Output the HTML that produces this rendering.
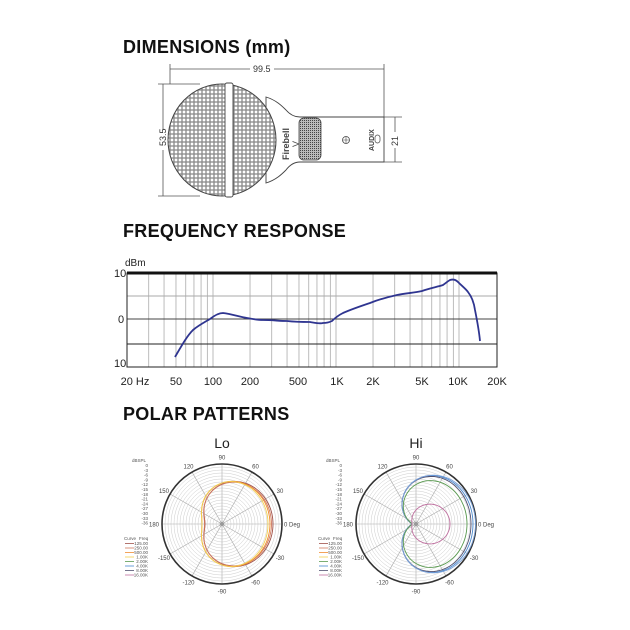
<!DOCTYPE html>
<html><head><meta charset="utf-8"><style>
html,body{margin:0;padding:0;background:#fff;}
svg{display:block;font-family:"Liberation Sans",sans-serif;}
</style></head><body>
<svg id="s" width="630" height="630" viewBox="0 0 630 630" xmlns="http://www.w3.org/2000/svg">
<defs>
<pattern id="mesh" width="8" height="8" patternUnits="userSpaceOnUse">
<rect width="8" height="8" fill="#fff"/>
<path d="M0 2H8M0 6H8M2 0V8M6 0V8" stroke="#888" stroke-width="1.3"/>
</pattern>
<pattern id="grill" width="2" height="2" patternUnits="userSpaceOnUse">
<rect width="2" height="2" fill="#bbb"/><rect width="1" height="1" fill="#444"/>
</pattern>
</defs>
<g font-weight="bold" font-size="18" fill="#111" letter-spacing="0.3">
<text x="123" y="53">DIMENSIONS (mm)</text>
<text x="123" y="237">FREQUENCY RESPONSE</text>
<text x="123" y="420">POLAR PATTERNS</text>
</g>
<!-- mic -->
<g stroke="#555" stroke-width="0.8" fill="none">
<line x1="170" y1="64" x2="170" y2="84"/><line x1="384" y1="64" x2="384" y2="117"/>
<line x1="170" y1="69" x2="250" y2="69"/><line x1="274" y1="69" x2="384" y2="69"/>
<line x1="158" y1="84" x2="200" y2="84"/><line x1="158" y1="196" x2="200" y2="196"/>
<line x1="163" y1="84" x2="163" y2="130"/><line x1="163" y1="150" x2="163" y2="196"/>
<line x1="384" y1="117" x2="402" y2="117"/><line x1="384" y1="162" x2="402" y2="162"/>
<line x1="395" y1="117" x2="395" y2="132"/><line x1="395" y1="148" x2="395" y2="162"/>
</g>
<g font-size="9" fill="#333">
<text x="253" y="72">99.5</text>
<text transform="translate(166,146) rotate(-90)">53.5</text>
<text transform="translate(398,146) rotate(-90)">21</text>
</g>
<path d="M266,97 C276,100 282,106 286,110 Q292,117 300,117 L384,117 L384,162 L300,162 Q292,162 286,170 C282,174 276,180 266,183 Z" fill="#fff" stroke="#444" stroke-width="0.9"/>
<ellipse cx="222" cy="140" rx="54" ry="56" fill="url(#mesh)" stroke="#444" stroke-width="1"/>
<rect x="225" y="83" width="8" height="114" rx="2" fill="#fff" stroke="#444" stroke-width="0.9"/>
<rect x="299" y="118" width="22" height="42" rx="5" fill="url(#grill)" stroke="#444" stroke-width="0.8"/>
<circle cx="346" cy="140" r="3.5" fill="none" stroke="#444" stroke-width="0.8"/>
<path d="M343,140h6M346,137v6" stroke="#444" stroke-width="0.6"/>
<text transform="translate(289,160) rotate(-90)" font-size="9" font-weight="bold" fill="#444">Firebell</text>
<text transform="translate(299,147) rotate(-90)" font-size="9" fill="#444">V</text>
<text transform="translate(374,151) rotate(-90)" font-size="7" font-weight="bold" fill="#444">AUDIX</text>
<rect x="375" y="135" width="5" height="8" rx="2.5" fill="none" stroke="#444" stroke-width="0.7"/>
<!-- freq -->
<text x="125" y="266" font-size="10" fill="#222">dBm</text>
<g id="fgrid" stroke="#b4b4b4" stroke-width="0.9"></g>
<line x1="127" y1="296" x2="497" y2="296" stroke="#aaa" stroke-width="0.9"/>
<line x1="127" y1="319" x2="497" y2="319" stroke="#444" stroke-width="0.9"/>
<line x1="127" y1="344" x2="497" y2="344" stroke="#222" stroke-width="1"/>
<rect x="127" y="273" width="370" height="94" fill="none" stroke="#222" stroke-width="1"/>
<line x1="127" y1="273" x2="497" y2="273" stroke="#111" stroke-width="3"/>
<g font-size="11" fill="#222">
<text x="114" y="277">10</text><text x="118" y="323">0</text><text x="114" y="367">10</text>
</g>
<g font-size="11" fill="#222" text-anchor="middle">
<text x="135" y="385">20 Hz</text><text x="176" y="385">50</text><text x="213" y="385">100</text>
<text x="250" y="385">200</text><text x="298" y="385">500</text><text x="337" y="385">1K</text>
<text x="373" y="385">2K</text><text x="422" y="385">5K</text><text x="458" y="385">10K</text><text x="497" y="385">20K</text>
</g>
<path d="M175,357 C182,345 187,336 193,330 C199,325 205,322 210,319 C215,315 219,313 223,313 C232,314 240,317 247,318 C253,319 257,320 263,320 C272,320 280,321 287,321 C296,322 304,322 310,322 C316,323 320,324 323,323 C328,323 330,322 332,321 C336,317 339,315 343,313 C352,309 361,306 370,303 C380,299 388,297 397,295 C406,293 414,293 422,291 C430,288 437,287 443,285 C446,283 448,281 450,280 C453,279 456,280 458,282 C462,286 466,289 468,292 C472,297 474,303 475,310 C477,320 479,330 480,341" fill="none" stroke="#2f3590" stroke-width="1.8"/>
<!-- polar -->
<text x="222" y="448" font-size="14" fill="#222" text-anchor="middle">Lo</text>
<text x="416" y="448" font-size="14" fill="#222" text-anchor="middle">Hi</text>
<g id="polar"></g>
</svg>
<script>
var NS="http://www.w3.org/2000/svg";
function el(p,t,a,txt){var e=document.createElementNS(NS,t);for(var k in a)e.setAttribute(k,a[k]);if(txt!=null)e.textContent=txt;p.appendChild(e);return e;}
var fg=document.getElementById('fgrid');
function fx(f){return 213+123*Math.log10(f/100);}
var fs=[30,40,50,60,70,80,90,100,200,300,400,500,600,700,800,900,1000,2000,3000,4000,5000,6000,7000,8000,9000,10000];
fs.forEach(function(f){var x=fx(f);el(fg,'line',{x1:x,y1:273,x2:x,y2:367});});
var pg=document.getElementById('polar');
function polar(cx,cy,curves){
  var R=60;
  for(var r=3;r<R;r+=3)el(pg,'circle',{cx:cx,cy:cy,r:r,fill:'none',stroke:'#ccc','stroke-width':0.5});
  for(var a=0;a<180;a+=30){var t=a*Math.PI/180;el(pg,'line',{x1:cx-R*Math.cos(t),y1:cy+R*Math.sin(t),x2:cx+R*Math.cos(t),y2:cy-R*Math.sin(t),stroke:'#aaa','stroke-width':0.6});}
  el(pg,'circle',{cx:cx,cy:cy,r:R,fill:'none',stroke:'#333','stroke-width':1.6});
  el(pg,'circle',{cx:cx,cy:cy,r:2,fill:'#999'});
  var labs=[[0,'0 Deg'],[30,'30'],[60,'60'],[90,'90'],[120,'120'],[150,'150'],[180,'180'],[-150,'-150'],[-120,'-120'],[-90,'-90'],[-60,'-60'],[-30,'-30']];
  labs.forEach(function(l){var t=l[0]*Math.PI/180,rr=67;var x=cx+rr*Math.cos(t),y=cy-rr*Math.sin(t)+2.5;var anc='middle';if(l[0]==0){anc='start';x=cx+R+2;}if(l[0]==180){anc='end';x=cx-R-3;}
    el(pg,'text',{x:x,y:y,'font-size':6,fill:'#444','text-anchor':anc},l[1]);});
  curves.forEach(function(c){var d='';for(var i=0;i<=360;i+=3){var t=i*Math.PI/180;var r=c[0]+c[1]*Math.cos(t)+c[2]*Math.cos(2*t);d+=(i?'L':'M')+(cx+r*Math.cos(t)).toFixed(1)+','+(cy-r*Math.sin(t)).toFixed(1);}
    el(pg,'path',{d:d+'Z',fill:'none',stroke:c[3],'stroke-width':0.9});});
  var lx=cx-76;
  el(pg,'text',{x:lx,y:462,'font-size':4.5,fill:'#555','text-anchor':'end'},'dBSPL');
  for(var i=0;i<=12;i++)el(pg,'text',{x:lx+2,y:467+i*4.8,'font-size':4.5,fill:'#555','text-anchor':'end'},i==0?'0':'-'+(i*3));
  el(pg,'text',{x:lx-22,y:540,'font-size':4.5,fill:'#555'},'Curve');
  el(pg,'text',{x:lx-7,y:540,'font-size':4.5,fill:'#555'},'Freq');
  var fr=['125.00','250.00','500.00','1.00K','2.00K','4.00K','8.00K','16.00K'];
  var cl=['#a0524a','#d07a60','#f08c30','#f2d050','#5a9a50','#4a8ad0','#505070','#c070a0'];
  fr.forEach(function(f,i){var y=545+i*4.5;el(pg,'line',{x1:lx-21,y1:y-1.5,x2:lx-12,y2:y-1.5,stroke:cl[i],'stroke-width':0.8});el(pg,'text',{x:lx+2,y:y,'font-size':4.5,fill:'#555','text-anchor':'end'},f);});
}
polar(222,524,[[37,17,-3,'#a0524a'],[36.5,16,-3,'#d07a60'],[37.5,14,-3.5,'#f08c30'],[37,13,-4,'#f2d050']]);
polar(416,524,[[37.3,26.5,-6.8,'#4a8ad0'],[36.5,25.5,-7,'#505070'],[38,27.5,-6,'#7aa0d8'],[33.5,23.5,-6,'#5a9a50'],[16.5,15,2.5,'#c070a0']]);
</script>
</body></html>
